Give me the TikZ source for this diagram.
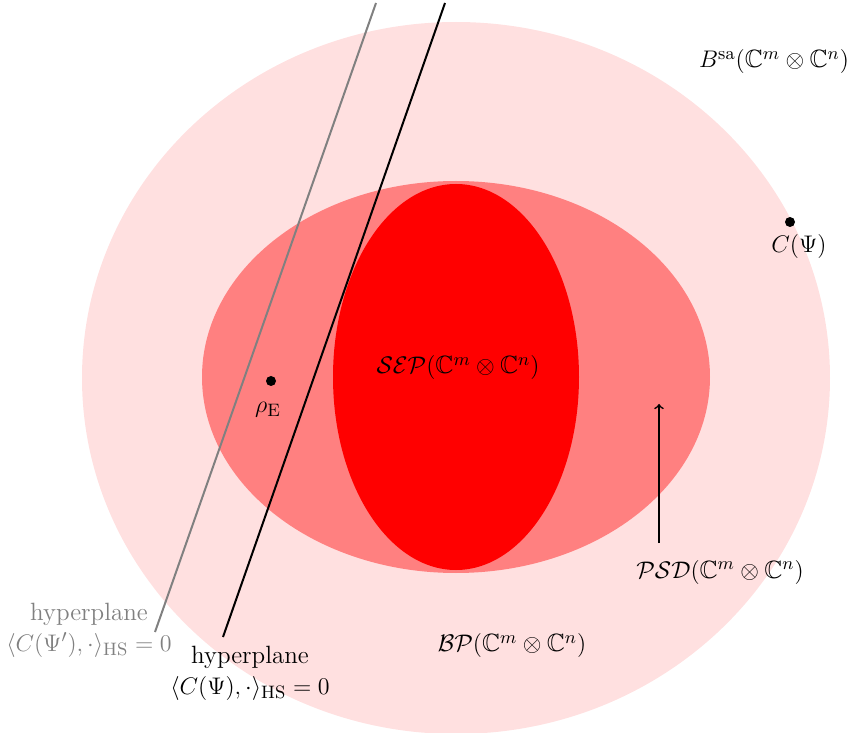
\documentclass[tikz,border=0pt]{standalone}
\usepackage{amsmath,amssymb}
\begin{document}
\begin{tikzpicture}[x=0.5pt,y=-0.5pt,
  font=\fontsize{12.5}{15.5}\selectfont,
  lbl/.style={inner sep=1pt},
  dotnode/.style={circle,fill=black,inner sep=0pt,minimum size=5pt},
  hyper/.style={line width=1pt},
  ghyper/.style={line width=1pt,draw=gray},
]
\useasboundingbox (0,0) rectangle (864,733);
% regions
\fill[red!12] (456,378) ellipse [x radius=187pt, y radius=178pt];
\fill[red!50] (456,377) ellipse [x radius=127pt, y radius=98pt];
\fill[red] (456,377) ellipse [x radius=61.5pt, y radius=96.5pt];
% hyperplanes
\coordinate (gtop) at (376,3);
\coordinate (gbot) at (155,632);
\coordinate (btop) at (445,3);
\coordinate (bbot) at (223,637);
\draw[ghyper] (gtop) -- (gbot);
\draw[hyper] (btop) -- (bbot);
\node[lbl,text=gray,align=center] (glab) at (89,630) {hyperplane\\$\langle C(\Psi'),\cdot\rangle_{\mathrm{HS}}=0$};
\node[lbl,align=center] (blab) at (250,673) {hyperplane\\$\langle C(\Psi),\cdot\rangle_{\mathrm{HS}}=0$};
% labels
\node[lbl] (sep) at (458,368) {$\mathcal{SEP}(\mathbb{C}^m\otimes\mathbb{C}^n)$};
\node[lbl] (bp) at (512,646) {$\mathcal{BP}(\mathbb{C}^m\otimes\mathbb{C}^n)$};
\node[lbl] (bsa) at (774,62) {$B^{\mathrm{sa}}(\mathbb{C}^m\otimes\mathbb{C}^n)$};
\node[lbl] (psd) at (720,572) {$\mathcal{PSD}(\mathbb{C}^m\otimes\mathbb{C}^n)$};
\coordinate (psdtail) at (659,543);
\coordinate (psdtip) at (659,404);
\draw[->,line width=0.8pt] (psdtail) -- (psdtip);
% points
\node[dotnode] (rho) at (271,381) {};
\node[lbl] (rholab) at (268,410) {$\rho_{\mathrm{E}}$};
\node[dotnode] (cpsi) at (790,222) {};
\node[lbl] (cpsilab) at (799,247) {$C(\Psi)$};
\end{tikzpicture}
\end{document}
